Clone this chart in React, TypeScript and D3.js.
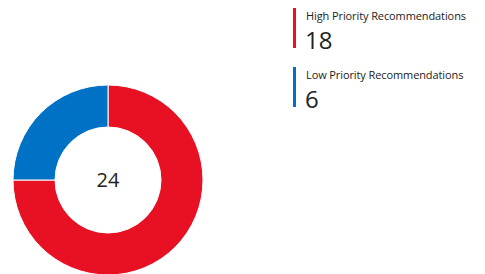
import React from 'react';
import * as d3 from 'd3';

const categories = ['High Priority Recommendations', 'Low Priority Recommendations'];
const values = [18, 6];
const colors = ['#e81123', '#0072c6'];

const W = 485;
const H = 274;

export default function App() {
  const cx = 108;
  const cy = 180;
  const R = 95;
  const r = 53;
  const total = d3.sum(values);

  const pie = d3.pie<number>().sort(null).value(d => d);
  const arcs = pie(values);
  const arc = d3.arc<d3.PieArcDatum<number>>().innerRadius(r).outerRadius(R);

  const font = '"Segoe UI", "Open Sans", "Noto Sans", sans-serif';

  return (
    <svg width={W} height={H} style={{ position: 'fixed', left: 0, top: 0 }}
      fontFamily={font}>
      <rect width={W} height={H} fill="#fff" />
      <g transform={`translate(${cx},${cy})`}>
        {arcs.map((a, i) => (
          <path key={i} d={arc(a) || ''} fill={colors[i]} stroke="#fff" strokeWidth={1} />
        ))}
        <text textAnchor="middle" y={7} fontSize={20} fill="#222" fontWeight={500}>{total}</text>
      </g>
      {categories.map((c, i) => {
        const y0 = 8 + i * 59;
        return (
          <g key={c} transform={`translate(293,${y0})`}>
            <rect width={3} height={40} fill={colors[i]} />
            <text x={13} y={12} fontSize={11} fill="#222" letterSpacing={-0.1}>{c}</text>
            <text x={12} y={41} fontSize={24} fill="#222">{values[i]}</text>
          </g>
        );
      })}
    </svg>
  );
}
